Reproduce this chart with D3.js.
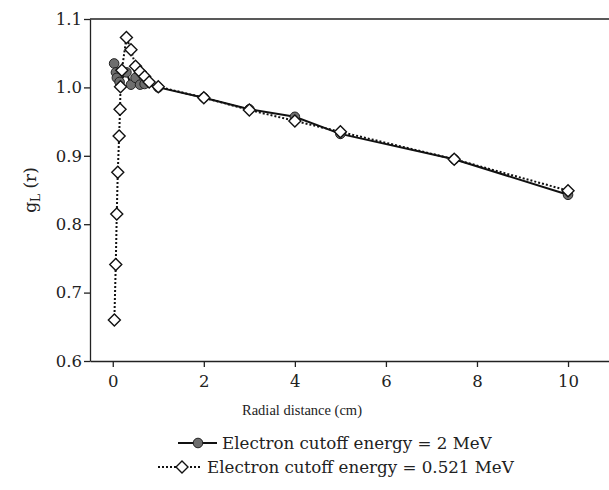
<!DOCTYPE html>
<html>
<head>
<meta charset="utf-8">
<script src="https://cdn.jsdelivr.net/npm/d3@7"></script>
<style>
  body { margin: 0; background: #fff; }
  text { font-family: "DejaVu Serif", serif; fill: #222; }
</style>
</head>
<body>
<svg id="chart" width="609" height="490"></svg>
<script>
// data
let cutoff2Mev = [
  { r: 0.03, g: 1.035 }, { r: 0.07, g: 1.022 }, { r: 0.09, g: 1.014 },
  { r: 0.15, g: 1.008 }, { r: 0.3, g: 1.022 }, { r: 0.4, g: 1.004 },
  { r: 0.5, g: 1.014 }, { r: 0.6, g: 1.004 }, { r: 0.7, g: 1.005 },
  { r: 1.0, g: 1.0 }, { r: 2, g: 0.985 }, { r: 3, g: 0.968 },
  { r: 4, g: 0.957 }, { r: 5, g: 0.932 }, { r: 7.5, g: 0.895 },
  { r: 10, g: 0.843 }
];
let cutoff0521Mev = [
  { r: 0.035, g: 0.66 }, { r: 0.066, g: 0.741 }, { r: 0.088, g: 0.815 },
  { r: 0.11, g: 0.876 }, { r: 0.14, g: 0.929 }, { r: 0.16, g: 0.968 },
  { r: 0.17, g: 1.001 }, { r: 0.2, g: 1.025 }, { r: 0.3, g: 1.073 },
  { r: 0.4, g: 1.055 }, { r: 0.5, g: 1.031 }, { r: 0.6, g: 1.023 },
  { r: 0.7, g: 1.016 }, { r: 0.8, g: 1.008 }, { r: 1.0, g: 1.001 },
  { r: 2, g: 0.985 }, { r: 3, g: 0.967 }, { r: 4, g: 0.951 },
  { r: 5, g: 0.935 }, { r: 7.5, g: 0.895 }, { r: 10, g: 0.849 }
];
let xTicks = [0, 2, 4, 6, 8, 10];
let yTicks = [0.6, 0.7, 0.8, 0.9, 1.0, 1.1];
let legendLabels = ["Electron cutoff energy = 2 MeV", "Electron cutoff energy = 0.521 MeV"];

let svg = d3.select("#chart");

// scales
let x = d3.scaleLinear().domain([-0.5, 10.9]).range([90, 609]);
let y = d3.scaleLinear().domain([0.6, 1.1]).range([361, 19]);

// axes
let xAxis = d3.axisBottom(x).tickValues(xTicks).tickSize(6).tickSizeOuter(0).tickFormat(d3.format("d"));
let yAxis = d3.axisLeft(y).tickValues(yTicks).tickSize(6).tickSizeOuter(0).tickFormat(d3.format(".1f"));

let gx = svg.append("g").attr("transform", "translate(0,361)").call(xAxis);
let gy = svg.append("g").attr("transform", "translate(90,0)").call(yAxis);

[gx, gy].forEach(g => {
  g.attr("font-family", null);
  g.select(".domain").attr("stroke", "#222").attr("stroke-width", 1.3);
  g.selectAll(".tick line").attr("stroke", "#222").attr("stroke-width", 1.3);
  g.selectAll(".tick text").attr("font-size", 16.5).attr("fill", "#222");
});
gx.selectAll(".tick text").attr("dy", "1.0em");
gy.selectAll(".tick text").attr("x", -8);

// top frame line
svg.append("line")
  .attr("x1", 90).attr("x2", 609)
  .attr("y1", y(1.1)).attr("y2", y(1.1))
  .attr("stroke", "#222").attr("stroke-width", 1.3);

// lines
let line = d3.line().x(d => x(d.r)).y(d => y(d.g));

svg.append("path")
  .datum(cutoff0521Mev)
  .attr("d", line)
  .attr("fill", "none")
  .attr("stroke", "#111")
  .attr("stroke-width", 2)
  .attr("stroke-dasharray", "2,2");

svg.append("path")
  .datum(cutoff2Mev)
  .attr("d", line)
  .attr("fill", "none")
  .attr("stroke", "#111")
  .attr("stroke-width", 2);

// markers
let diamond = "M0,-6L6,0L0,6L-6,0Z";

svg.append("g").selectAll("circle")
  .data(cutoff2Mev)
  .enter()
  .append("circle")
  .attr("cx", d => x(d.r))
  .attr("cy", d => y(d.g))
  .attr("r", 4.8)
  .attr("fill", "#6e6e6e")
  .attr("stroke", "#222")
  .attr("stroke-width", 1);

svg.append("g").selectAll("path")
  .data(cutoff0521Mev)
  .enter()
  .append("path")
  .attr("d", diamond)
  .attr("transform", d => `translate(${x(d.r)},${y(d.g)})`)
  .attr("fill", "#fff")
  .attr("stroke", "#111")
  .attr("stroke-width", 1.4);

// axis titles
svg.append("text")
  .attr("x", 302).attr("y", 415)
  .attr("text-anchor", "middle")
  .attr("font-family", "Liberation Serif")
  .style("font-family", "'Liberation Serif', serif")
  .attr("font-size", 14.5)
  .text("Radial distance (cm)");

let yTitle = svg.append("text")
  .attr("transform", "translate(36,190) rotate(-90)")
  .attr("text-anchor", "middle")
  .attr("font-size", 17);
yTitle.append("tspan").text("g");
yTitle.append("tspan").attr("font-size", 12).attr("dy", 4).text("L");
yTitle.append("tspan").attr("dy", -4).text(" (r)");

// legend
let lg1 = svg.append("g").attr("transform", "translate(0,443)");
lg1.append("line").attr("x1", 178).attr("x2", 217).attr("stroke", "#111").attr("stroke-width", 2);
lg1.append("circle").attr("cx", 198).attr("r", 4.8).attr("fill", "#6e6e6e").attr("stroke", "#222");
lg1.append("text").attr("x", 222).attr("dy", "0.35em").attr("font-size", 16.7).text(legendLabels[0]);

let lg2 = svg.append("g").attr("transform", "translate(0,467)");
lg2.append("line").attr("x1", 158).attr("x2", 202).attr("stroke", "#111").attr("stroke-width", 2).attr("stroke-dasharray", "2,2");
lg2.append("path").attr("d", diamond).attr("transform", "translate(182,0)").attr("fill", "#fff").attr("stroke", "#111").attr("stroke-width", 1.4);
lg2.append("text").attr("x", 207).attr("dy", "0.35em").attr("font-size", 16.7).text(legendLabels[1]);
</script>
</body>
</html>
